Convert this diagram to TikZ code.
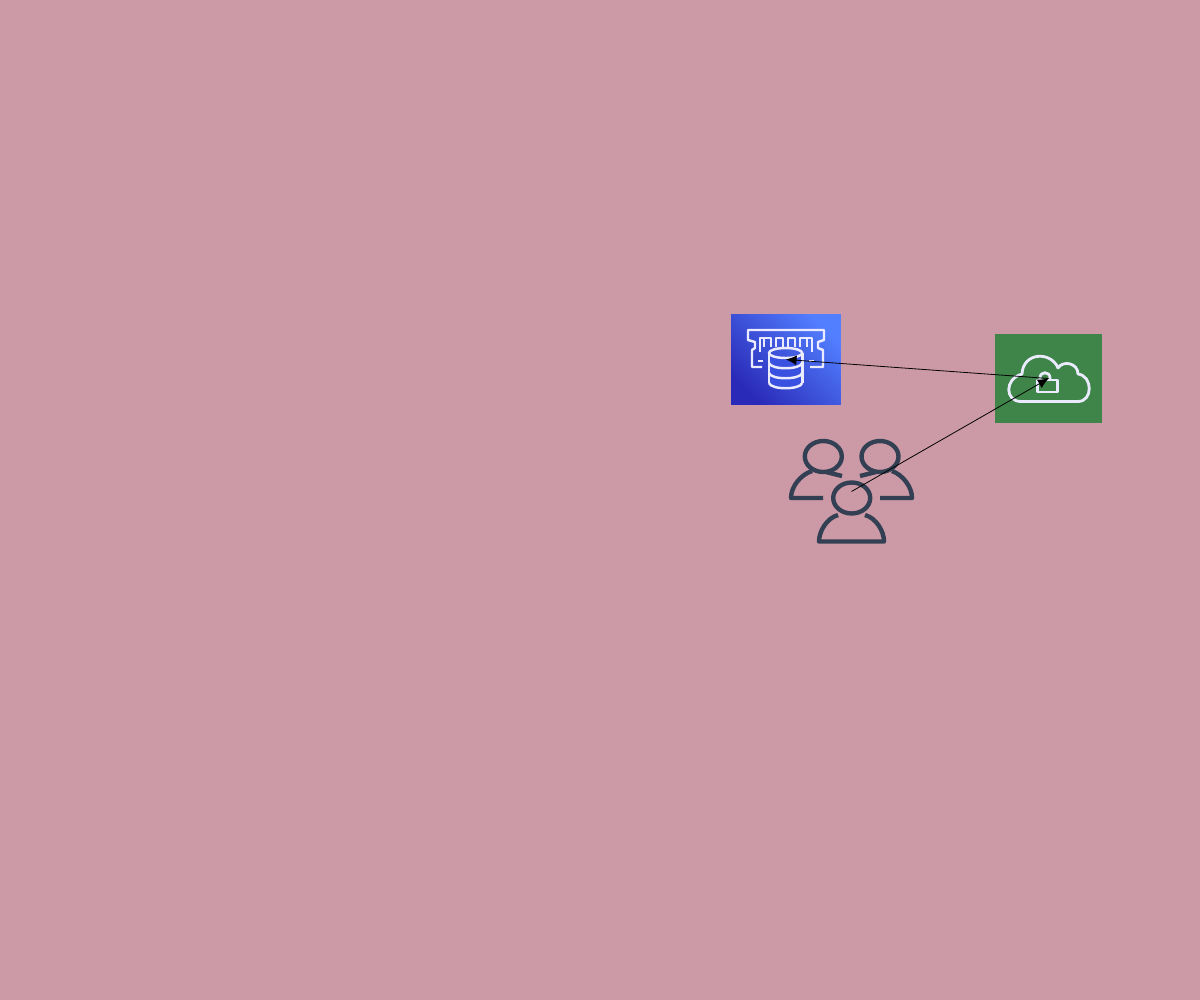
\documentclass[tikz,border=0pt]{standalone}
\usepackage{tikz}
\usetikzlibrary{arrows.meta}
\definecolor{pagebg}{HTML}{CC99A6}
\definecolor{memblue}{HTML}{3A50E0}
\definecolor{memdark}{HTML}{2A2AB8}
\definecolor{memlight}{HTML}{527FFF}
\definecolor{vpngreen}{HTML}{3F8549}
\definecolor{userink}{HTML}{334053}
\tikzset{
	iconline/.style={draw=white!92!blue, line width=1.4pt, line join=round, fill=none},
	userline/.style={draw=userink, line width=2.5pt, line join=round, fill=none},
	conn/.style={draw=black, line width=0.45pt, -{Latex[length=6pt, width=5.5pt]}},
}

\begin{document}
\begin{tikzpicture}[x=0.02cm, y=-0.02cm]
	\fill[pagebg] (0,0) rectangle (1200,1000);

	\node[minimum width=2.2cm, minimum height=1.82cm, inner sep=0pt, shading=axis, top color=memlight, bottom color=memdark, shading angle=-45] (memdb) at (786,359.5) {};
	\node[minimum width=2.14cm, minimum height=1.78cm, inner sep=0pt, fill=vpngreen] (cloudvpn) at (1048.5,378.5) {};
	\node[minimum width=2.48cm, minimum height=2.08cm, inner sep=0pt] (users) at (851.5,491.5) {};

	% memory card
	\draw[iconline] (762,367) -- (752,367) -- (752,350) -- (755,348) -- (755,342) -- (748,340) -- (748,330) -- (824,330) -- (824,340) -- (818,342) -- (818,348) -- (823,350) -- (823,367) -- (810,367);
	\draw[iconline] (758,361) -- (763,361);
	\draw[iconline] (814,361) -- (809,361);
	\draw[iconline] (760,352) -- (760,338) -- (764,338);
	\draw[iconline] (764,347) -- (764,338) -- (771,338) -- (771,347);
	\draw[iconline] (776,347) -- (776,338) -- (783,338) -- (783,347);
	\draw[iconline] (788,347) -- (788,338) -- (795,338) -- (795,347);
	\draw[iconline] (800,347) -- (800,338) -- (807,338) -- (807,347);
	\draw[iconline] (812,352) -- (812,338) -- (807,338);

	% database on top
	\fill[memblue] (769,353) -- (769,383) arc[start angle=180, end angle=360, x radius=0.333cm, y radius=0.1cm] -- (802,353) arc[start angle=0, end angle=-180, x radius=0.333cm, y radius=0.1cm] -- cycle;
	\draw[iconline] (785.6,353) ellipse[x radius=0.333cm, y radius=0.1cm];
	\draw[iconline] (769,353) -- (769,383);
	\draw[iconline] (802.3,353) -- (802.3,383);
	\draw[iconline] (769,383) .. controls (771,390) and (800,390) .. (802.3,383);
	\draw[iconline] (769,363) .. controls (771,370) and (800,370) .. (802.3,363);
	\draw[iconline] (769,373) .. controls (771,380) and (800,380) .. (802.3,373);

	% cloud with lock
	\draw[iconline, line width=1.6pt] (1021,401.5) -- (1078,401.5) .. controls (1093,401.5) and (1093,376) .. (1078,374) .. controls (1078,363) and (1063,360) .. (1058,368) .. controls (1051,351) and (1023,352) .. (1022,374) .. controls (1004,379) and (1005,401.5) .. (1021,401.5) -- cycle;
	\draw[iconline, line width=1.6pt] (1037.5,380) rectangle (1057.5,392);
	\draw[iconline, line width=1.6pt] (1040,380) -- (1040,378) .. controls (1040,371) and (1050,371) .. (1050,378) -- (1050,380);

	% three users
	\draw[userline] (823.3,456.5) ellipse[x radius=0.37cm, y radius=0.31cm];
	\draw[userline] (880,456.5) ellipse[x radius=0.37cm, y radius=0.31cm];
	\draw[userline] (851.7,498) ellipse[x radius=0.37cm, y radius=0.31cm];
	\draw[userline] (812,471) .. controls (800,475) and (791,487) .. (791,498) -- (823,498);
	\draw[userline] (826,472) -- (842,476);
	\draw[userline] (892,471) .. controls (903,475) and (912,487) .. (912,498) -- (880,498);
	\draw[userline] (876,472) -- (860,476);
	\draw[userline] (838,515) .. controls (827,518) and (819,531) .. (819,541.5) -- (884,541.5) .. controls (884,531) and (876,518) .. (865,515);

	\draw[conn] (cloudvpn.center) -- (memdb.center);
	\draw[conn] (users.center) -- (cloudvpn.center);
\end{tikzpicture}
\end{document}
